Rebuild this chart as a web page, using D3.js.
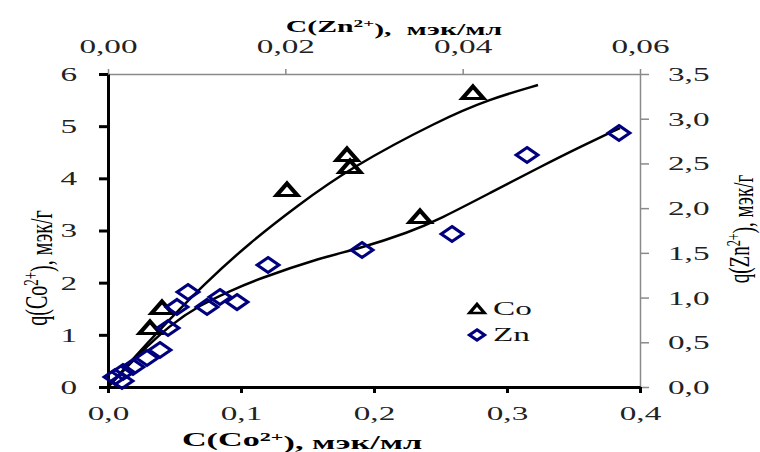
<!DOCTYPE html>
<html>
<head>
<meta charset="utf-8">
<script src="https://cdn.jsdelivr.net/npm/d3@7"></script>
<style>
  body { margin: 0; background: #fff; }
  #chart { width: 760px; height: 452px; }
  text { font-family: "Liberation Serif", "Times New Roman", serif; }
</style>
</head>
<body>
<div id="chart"></div>
<script>
"use strict";

// Co: measured points (bottom / left axes)
const coX = [0.0316, 0.0406, 0.1346, 0.1797, 0.182, 0.2346, 0.2744];
const coY = [1.131, 1.514, 3.776, 4.447, 4.217, 3.259, 5.636];

// Co: fitted curve
const coFitX = [0, 0.0368, 0.0729, 0.1068, 0.1421, 0.182, 0.2496, 0.2872, 0.3233];
const coFitY = [0, 1.05, 1.99, 2.77, 3.47, 4.2, 5.118, 5.52, 5.789];

// Zn: measured points (top / right axes)
const znX = [0.00079, 0.00158, 0.00169, 0.00282, 0.0044, 0.00586, 0.00677, 0.00778,
  0.00902, 0.01117, 0.01263, 0.01455, 0.01805, 0.02865, 0.0388, 0.04726, 0.05763];
const znY = [0.112, 0.067, 0.168, 0.224, 0.324, 0.414, 0.66, 0.895,
  1.062, 0.895, 1.006, 0.95, 1.364, 1.532, 1.711, 2.594, 2.84];

// Zn: fitted curve
const znFitX = [0, 0.00361, 0.00699, 0.01038, 0.01376, 0.01658, 0.02425, 0.02808,
  0.03406, 0.03744, 0.04308, 0.04872, 0.05323, 0.05774];
const znFitY = [0, 0.38, 0.693, 0.917, 1.073, 1.196, 1.454, 1.54,
  1.733, 1.879, 2.169, 2.46, 2.684, 2.896];

const coXTicks = [0, 0.1, 0.2, 0.3, 0.4];
const coYTicks = [0, 1, 2, 3, 4, 5, 6];
const znXTicks = [0, 0.02, 0.04, 0.06];
const znYTicks = [0, 0.5, 1, 1.5, 2, 2.5, 3, 3.5];

const legendNames = ["Co", "Zn"];

// the picture is stretched sideways, text too
const SX = 1.75;

const margin = { left: 108, right: 120, top: 74, bottom: 65 };
const W = 760, H = 452;

function comma(fmt) {
  const f = d3.format(fmt);
  return (v) => f(v).replace(".", ",");
}

function styleTickText(g, x, y, anchor) {
  g.selectAll(".tick text")
    .attr("fill", "#222")
    .attr("font-size", "19px")
    .attr("text-anchor", anchor)
    .attr("x", x / SX)
    .attr("y", y)
    .attr("dy", anchor === "middle" ? "0" : "0.34em")
    .attr("transform", `scale(${SX},1)`);
}

// text with a superscript, e.g. C(Zn²⁺)
function supLabel(sel, pre, sup, post) {
  sel.append("tspan").text(pre);
  sel.append("tspan").attr("dy", "-0.45em").attr("font-size", "0.65em").text(sup);
  sel.append("tspan").attr("dy", "0.45em").text(post);
}

function triPath(s) {
  return `M0,${-6.5 * s}L${7 * s},${5.5 * s}L${-7 * s},${5.5 * s}Z`;
}

function diaPath(s) {
  return `M0,${-7.5 * s}L${7.5 * s},0L0,${7.5 * s}L${-7.5 * s},0Z`;
}

function draw() {
  const svg = d3.select("#chart").append("svg")
    .attr("width", W).attr("height", H);

  const x0 = margin.left, x1 = W - margin.right;
  const y0 = H - margin.bottom, y1 = margin.top;

  const xCo = d3.scaleLinear().domain([0, 0.4]).range([x0, x1]);
  const yCo = d3.scaleLinear().domain([0, 6]).range([y0, y1]);
  const xZn = d3.scaleLinear().domain([0, 0.06]).range([x0, x1]);
  const yZn = d3.scaleLinear().domain([0, 3.5]).range([y0, y1]);

  // top axis (Zn), grey
  const top = svg.append("g").attr("transform", `translate(0,${y1})`)
    .call(d3.axisTop(xZn).tickValues(znXTicks).tickSize(5).tickSizeOuter(0).tickFormat(comma(".2f")));
  top.selectAll("path, line").attr("stroke", "#8a8a8a").attr("stroke-width", 1.5);
  styleTickText(top, 0, -21, "middle");

  // right axis (Zn), grey
  const right = svg.append("g").attr("transform", `translate(${x1},0)`)
    .call(d3.axisRight(yZn).tickValues(znYTicks).tickSize(9).tickSizeOuter(0).tickFormat(comma(".1f")));
  right.selectAll("path, line").attr("stroke", "#8a8a8a").attr("stroke-width", 1.5);
  styleTickText(right, 28, 0, "start");

  // bottom axis (Co), black
  const bottom = svg.append("g").attr("transform", `translate(0,${y0})`)
    .call(d3.axisBottom(xCo).tickValues(coXTicks).tickSize(6).tickSizeOuter(0).tickFormat(comma(".1f")));
  bottom.selectAll("path, line").attr("stroke", "#000").attr("stroke-width", 3);
  styleTickText(bottom, 0, 33, "middle");

  // left axis (Co), black
  const left = svg.append("g").attr("transform", `translate(${x0},0)`)
    .call(d3.axisLeft(yCo).tickValues(coYTicks).tickSize(9).tickSizeOuter(0).tickFormat(d3.format("d")));
  left.selectAll("path, line").attr("stroke", "#000").attr("stroke-width", 3);
  styleTickText(left, -31, 0, "end");

  // axis titles
  const tTop = svg.append("text")
    .attr("transform", `translate(394,32) scale(${SX},1)`)
    .attr("text-anchor", "middle").attr("font-size", "17px").attr("font-weight", "bold");
  supLabel(tTop, "C(Zn", "2+", "),\u00a0 мэк/мл");

  const tBottom = svg.append("text")
    .attr("transform", `translate(302,446) scale(1.9,1)`)
    .attr("text-anchor", "middle").attr("font-size", "18px").attr("font-weight", "bold");
  supLabel(tBottom, "C(Co", "2+", "), мэк/мл");

  const tLeft = svg.append("text")
    .attr("transform", `translate(36,268) scale(1.6,1) rotate(-90)`)
    .attr("text-anchor", "middle").attr("dy", "0.35em").attr("font-size", "20px");
  supLabel(tLeft, "q(Co", "2+", "), мэк/г");

  const tRight = svg.append("text")
    .attr("transform", `translate(738,229) scale(1.6,1) rotate(-90)`)
    .attr("text-anchor", "middle").attr("dy", "0.35em").attr("font-size", "19px");
  supLabel(tRight, "q(Zn", "2+", "), мэк/г");

  // fitted curves
  const coLine = d3.line().curve(d3.curveBasis)
    .x((d, i) => xCo(coFitX[i])).y((d) => yCo(d));
  const znLine = d3.line().curve(d3.curveBasis)
    .x((d, i) => xZn(znFitX[i])).y((d) => yZn(d));

  svg.append("path").attr("d", coLine(coFitY))
    .attr("fill", "none").attr("stroke", "#000").attr("stroke-width", 2.5);
  svg.append("path").attr("d", znLine(znFitY))
    .attr("fill", "none").attr("stroke", "#000").attr("stroke-width", 2.5);

  // markers
  svg.append("g").selectAll("path")
    .data(coY).enter().append("path")
    .attr("d", triPath(1))
    .attr("transform", (d, i) => `translate(${xCo(coX[i])},${yCo(d)}) scale(1.5,1)`)
    .attr("fill", "none").attr("stroke", "#000").attr("stroke-width", 3.2);

  svg.append("g").selectAll("path")
    .data(znY).enter().append("path")
    .attr("d", diaPath(1))
    .attr("transform", (d, i) => `translate(${xZn(znX[i])},${yZn(d)}) scale(1.45,1)`)
    .attr("fill", "none").attr("stroke", "#00007f").attr("stroke-width", 2.6);

  // legend
  const legend = svg.append("g").attr("transform", "translate(477,309)");
  const items = legend.selectAll("g").data(legendNames).enter().append("g")
    .attr("transform", (d, i) => `translate(0,${i * 26})`);
  items.append("path")
    .attr("d", (d, i) => (i === 0 ? triPath(0.72) : diaPath(0.7)))
    .attr("transform", "scale(1.45,1)")
    .attr("fill", "none")
    .attr("stroke", (d, i) => (i === 0 ? "#000" : "#00007f"))
    .attr("stroke-width", 2.6);
  items.append("text")
    .attr("transform", `translate(16,6) scale(${SX},1)`)
    .attr("font-size", "19px").attr("fill", "#111")
    .text((d) => d);
}

draw();
</script>
</body>
</html>
